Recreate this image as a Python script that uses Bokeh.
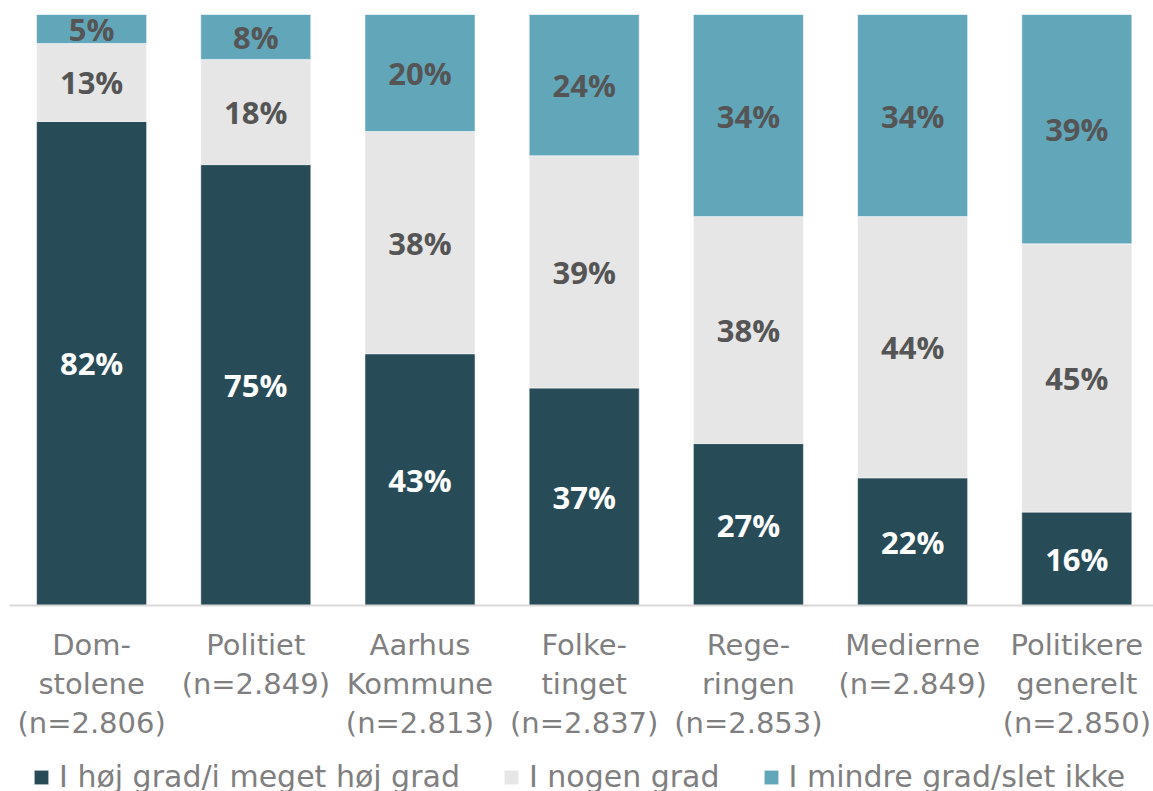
from bokeh.plotting import figure
from bokeh.layouts import column
from bokeh.models import ColumnDataSource, Range1d, FixedTicker, Legend, LegendItem
from bokeh.core.properties import value
from bokeh.embed import file_html
from bokeh.resources import INLINE

categories = [
    "Dom-\nstolene\n(n=2.806)",
    "Politiet\n(n=2.849)",
    "Aarhus\nKommune\n(n=2.813)",
    "Folke-\ntinget\n(n=2.837)",
    "Rege-\nringen\n(n=2.853)",
    "Medierne\n(n=2.849)",
    "Politikere\ngenerelt\n(n=2.850)",
]
high = [81.9, 74.6, 42.6, 36.8, 27.4, 21.6, 15.8]
some = [13.2, 17.8, 37.6, 39.3, 38.4, 44.2, 45.4]
low = [4.9, 7.6, 19.8, 23.9, 34.2, 34.2, 38.8]
series_names = ["I høj grad/i meget høj grad", "I nogen grad", "I mindre grad/slet ikke"]

colors = ["#274b57", "#e6e6e6", "#62a6ba"]

x = list(range(len(categories)))
src = ColumnDataSource(dict(x=x, high=high, some=some, low=low))

p = figure(width=1153, height=760,
           x_range=Range1d(-0.5, 6.467), y_range=Range1d(0, 100),
           output_backend="svg", toolbar_location=None, y_axis_location=None,
           min_border_left=9, min_border_right=0, min_border_top=14, min_border_bottom=155,
           outline_line_color=None)

renderers = p.vbar_stack(["high", "some", "low"], x="x", width=0.67, source=src,
                         fill_color=colors, line_color="white", line_alpha=0.5, line_width=1)

# value labels
high_mid = [h / 2 for h in high]
some_mid = [h + s / 2 for h, s in zip(high, some)]
low_mid = [h + s + l / 2 for h, s, l in zip(high, some, low)]

lab_kw = dict(text_font=value("Open Sans"), text_font_style="bold", text_font_size="31px",
              text_align="center", text_baseline="middle")
p.text(x=x, y=high_mid, text=[f"{v:.0f}%" for v in high], text_color="white", **lab_kw)
p.text(x=x, y=some_mid, text=[f"{v:.0f}%" for v in some], text_color="#555555", **lab_kw)
p.text(x=x, y=low_mid, text=[f"{v:.0f}%" for v in low], text_color="#555555", **lab_kw)

# axis
ax = p.xaxis[0]
ax.ticker = FixedTicker(ticks=x)
ax.major_label_overrides = {i: c for i, c in enumerate(categories)}
ax.major_label_text_font = "DejaVu Sans"
ax.major_label_text_font_size = "29px"
ax.major_label_text_color = "#7f7f7f"
ax.major_label_text_line_height = 1.15
ax.major_tick_out = 0
ax.major_tick_in = 0
ax.major_label_standoff = 22
ax.major_tick_line_color = None
ax.minor_tick_line_color = None
ax.axis_line_color = "#d9d9d9"
ax.axis_line_width = 2
p.xgrid.visible = False
p.ygrid.visible = False

# legend strip (bottom of the page, cut like the reference)
p2 = figure(width=1153, height=31, x_range=Range1d(0, 1), y_range=Range1d(0, 1),
            output_backend="svg", toolbar_location=None, x_axis_location=None,
            y_axis_location=None, min_border=0, outline_line_color=None)
p2.xgrid.visible = False
p2.ygrid.visible = False
# legend proxies: kept outside the strip's visible range
proxies = [p2.vbar(x=[10], top=[1], width=1, fill_color=c, line_color="white", line_alpha=0.5)
           for c in colors]
legend = Legend(items=[LegendItem(label=n, renderers=[r]) for n, r in zip(series_names, proxies)],
                orientation="horizontal", location=(23, -3),
                label_text_font="DejaVu Sans", label_text_font_size="30px",
                label_text_color="#7f7f7f", glyph_width=18, glyph_height=18,
                label_standoff=9, spacing=42, padding=0, margin=0,
                border_line_color=None, background_fill_alpha=0)
p2.add_layout(legend)

layout = column(p, p2, spacing=0)
open("out.html", "w").write(file_html(layout, INLINE))
